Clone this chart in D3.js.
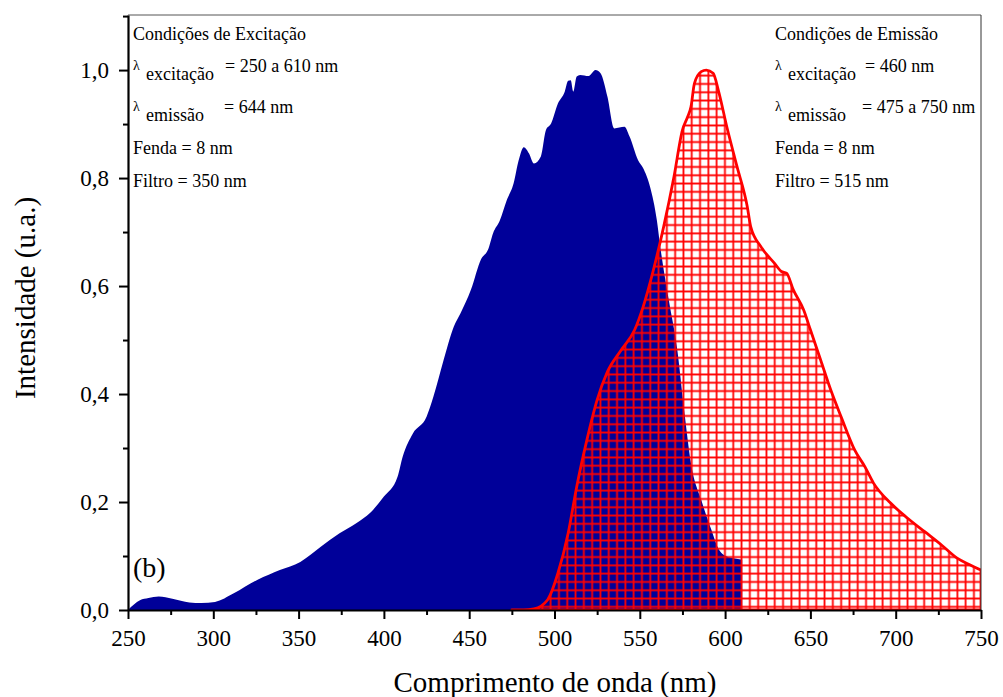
<!DOCTYPE html>
<html>
<head>
<meta charset="utf-8">
<script src="https://cdn.jsdelivr.net/npm/d3@7"></script>
<style>
  body { margin: 0; background: #fff; }
  svg text { font-family: "Liberation Serif", "Times New Roman", serif; }
</style>
</head>
<body>
<div id="chart"></div>
<script>
// excitation spectrum (blue fill), 250 to 610 nm
const excWavelength = [250, 257, 262, 268, 276, 286, 293, 301, 312, 326, 339, 351, 363, 374, 384, 392, 400, 408, 411, 417, 425, 429, 435, 441, 445, 451, 457, 461, 464, 468, 472, 476, 479, 482, 485, 488, 492, 495, 498, 502, 506, 508, 509.5, 511, 513, 515, 520, 524, 527, 531, 535, 541, 544, 549, 552, 556, 560, 562, 567, 572, 576, 580, 586, 592, 596, 601, 605, 610];
const excIntensity = [0, 0.018, 0.022, 0.025, 0.021, 0.014, 0.013, 0.015, 0.031, 0.056, 0.074, 0.089, 0.117, 0.142, 0.161, 0.18, 0.21, 0.247, 0.284, 0.327, 0.358, 0.395, 0.463, 0.525, 0.55, 0.593, 0.65, 0.667, 0.698, 0.722, 0.759, 0.79, 0.833, 0.857, 0.846, 0.827, 0.84, 0.889, 0.901, 0.938, 0.96, 0.98, 0.981, 0.96, 0.988, 0.991, 0.989, 1.0, 0.994, 0.951, 0.892, 0.895, 0.877, 0.833, 0.818, 0.784, 0.722, 0.673, 0.574, 0.481, 0.37, 0.272, 0.204, 0.148, 0.114, 0.099, 0.096, 0.093];

// emission spectrum (red grid), 475 to 750 nm
const emWavelength = [475, 482, 488, 496, 502, 508, 513, 519, 525, 531, 539, 547, 552, 558, 564, 570, 575, 578, 580, 582, 586, 589, 593, 596, 601, 607, 613, 615, 621, 629, 633, 636, 640, 646, 650, 656, 662, 668, 676, 682, 687, 697, 707, 717, 727, 736, 744, 750];
const emIntensity = [0, 0, 0.002, 0.019, 0.068, 0.142, 0.228, 0.315, 0.389, 0.441, 0.481, 0.519, 0.562, 0.63, 0.71, 0.802, 0.889, 0.913, 0.932, 0.975, 0.997, 1.0, 0.994, 0.963, 0.895, 0.821, 0.747, 0.71, 0.673, 0.642, 0.627, 0.624, 0.593, 0.556, 0.519, 0.463, 0.407, 0.358, 0.296, 0.265, 0.235, 0.198, 0.17, 0.145, 0.12, 0.096, 0.083, 0.074];

const xTicks = [250, 300, 350, 400, 450, 500, 550, 600, 650, 700, 750];
const yTicks = [0, 0.2, 0.4, 0.6, 0.8, 1.0];

const excLines = ["Condições de Excitação", ["excitação", "= 250 a 610 nm"], ["emissão", "= 644 nm"], "Fenda = 8 nm", "Filtro = 350 nm"];
const emLines = ["Condições de Emissão", ["excitação", "= 460 nm"], ["emissão", "= 475 a 750 nm"], "Fenda = 8 nm", "Filtro = 515 nm"];

const width = 1003, height = 697;
const margin = { left: 128, right: 22, top: 15, bottom: 87 };
const innerW = width - margin.left - margin.right;
const innerH = height - margin.top - margin.bottom;

const svg = d3.select('#chart').append('svg')
  .attr('width', width)
  .attr('height', height);

const defs = svg.append('defs');
const cell = 8.3;
const pat = defs.append('pattern')
  .attr('id', 'grid')
  .attr('patternUnits', 'userSpaceOnUse')
  .attr('x', margin.left).attr('y', margin.top)
  .attr('width', cell).attr('height', cell);
pat.append('path')
  .attr('d', `M0,${cell / 2}H${cell}M${cell / 2},0V${cell}`)
  .attr('stroke', '#ff0000')
  .attr('stroke-width', 1.8)
  .attr('fill', 'none');

defs.append('clipPath').attr('id', 'plot-clip')
  .append('rect').attr('width', innerW).attr('height', innerH);

const g = svg.append('g').attr('transform', `translate(${margin.left},${margin.top})`);

const x = d3.scaleLinear().domain([250, 750]).range([0, innerW]);
const y = d3.scaleLinear().domain([0, 1.102]).range([innerH, 0]);

const excData = excWavelength.map((w, i) => [w, excIntensity[i]]);
const emData = emWavelength.map((w, i) => [w, emIntensity[i]]);

const area = d3.area()
  .x(d => x(d[0]))
  .y0(y(0))
  .y1(d => y(d[1]))
  .curve(d3.curveMonotoneX);

const plot = g.append('g').attr('clip-path', 'url(#plot-clip)');

plot.append('path')
  .datum(excData)
  .attr('d', area)
  .attr('fill', '#000099');

plot.append('path')
  .datum(emData)
  .attr('d', area)
  .attr('fill', 'url(#grid)')
  .attr('stroke', '#ff0000')
  .attr('stroke-width', 2.8)
  .attr('stroke-linejoin', 'round');

// frame: top and right thin
g.append('line').attr('x1', 0).attr('x2', innerW).attr('y1', 0).attr('y2', 0)
  .attr('stroke', '#555').attr('stroke-width', 1);
g.append('line').attr('x1', innerW).attr('x2', innerW).attr('y1', 0).attr('y2', innerH)
  .attr('stroke', '#333').attr('stroke-width', 1);

const fmt = d => d3.format('.1f')(d).replace('.', ',');

// minor ticks
g.append('g')
  .attr('transform', `translate(0,${innerH})`)
  .call(d3.axisBottom(x).tickValues(d3.range(275, 750, 50)).tickSize(5).tickFormat(''))
  .call(a => a.select('.domain').remove())
  .call(a => a.selectAll('line').attr('stroke-width', 2));
g.append('g')
  .call(d3.axisLeft(y).tickValues([0.1, 0.3, 0.5, 0.7, 0.9, 1.1]).tickSize(5).tickFormat(''))
  .call(a => a.select('.domain').remove())
  .call(a => a.selectAll('line').attr('stroke-width', 2));

const xAxis = g.append('g')
  .attr('transform', `translate(0,${innerH})`)
  .call(d3.axisBottom(x).tickValues(xTicks).tickSize(9).tickSizeOuter(0).tickPadding(11));
xAxis.select('.domain').attr('stroke-width', 2.2);
xAxis.selectAll('line').attr('stroke-width', 2);
xAxis.selectAll('text').attr('font-size', 23).attr('fill', '#000')
  .style('font-family', '"Liberation Serif", serif');

const yAxis = g.append('g')
  .call(d3.axisLeft(y).tickValues(yTicks).tickSize(9).tickSizeOuter(0).tickPadding(10).tickFormat(fmt));
yAxis.select('.domain').attr('stroke-width', 2.2);
yAxis.selectAll('line').attr('stroke-width', 2);
yAxis.selectAll('text').attr('font-size', 23).attr('fill', '#000')
  .style('font-family', '"Liberation Serif", serif');

// axis titles
svg.append('text')
  .attr('x', 555)
  .attr('y', 692)
  .attr('text-anchor', 'middle')
  .attr('font-size', 29)
  .text('Comprimento de onda (nm)');

svg.append('text')
  .attr('transform', `translate(35,${298}) rotate(-90)`)
  .attr('text-anchor', 'middle')
  .attr('font-size', 29)
  .text('Intensidade (u.a.)');

// condition blocks
function block(x0, lines, eqs) {
  const t = svg.append('g').attr('font-size', 18);
  t.append('text').attr('x', x0).attr('y', 40).text(lines[0]);
  [[72, lines[1], eqs[0]], [113, lines[2], eqs[1]]].forEach(([yy, pair, eq]) => {
    t.append('text').attr('x', x0).attr('y', yy - 2).attr('font-size', 14).text('λ');
    t.append('text').attr('x', x0 + 13).attr('y', yy + 8).text(pair[0]);
    t.append('text').attr('x', x0 + eq).attr('y', yy).text(pair[1]);
  });
  t.append('text').attr('x', x0).attr('y', 154).text(lines[3]);
  t.append('text').attr('x', x0).attr('y', 187).text(lines[4]);
}
block(133, excLines, [92, 91]);
block(775, emLines, [90, 87]);

svg.append('text')
  .attr('x', 133).attr('y', 577)
  .attr('font-size', 28)
  .text('(b)');
</script>
</body>
</html>
